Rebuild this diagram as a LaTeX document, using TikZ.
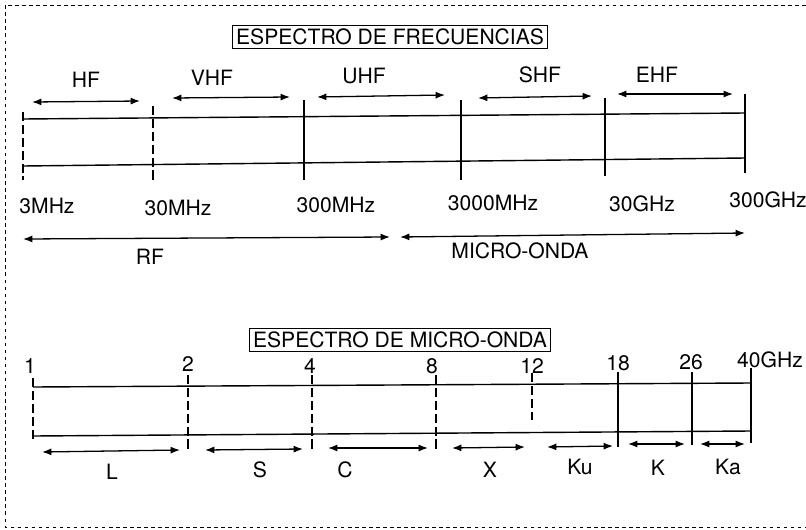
\documentclass[tikz,border=0pt]{standalone}
\usepackage{fontspec}
\setmainfont{TeX Gyre Heros}
\usetikzlibrary{arrows.meta}
\tikzset{%
  bandline/.style   = {draw, line width=1.2pt},
  divline/.style    = {draw, line width=1.1pt},
  divdash/.style    = {draw, line width=1.1pt, dash pattern=on 8pt off 3pt},
  rangearrow/.style = {{Latex[length=8pt,width=6pt]}-{Latex[length=8pt,width=6pt]}, line width=1.1pt},
  titlebox/.style   = {draw, line width=1.1pt, inner sep=3pt, font=\fontsize{18}{20}\selectfont},
  freqlabel/.style  = {font=\fontsize{18}{20}\selectfont, inner sep=0pt}
}

\begin{document}
\begin{tikzpicture}[x=0.03cm, y=-0.03cm]
    \useasboundingbox (0,0) rectangle (806,530);
    % marco
    \draw[dashed, line width=0.8pt] (806,5) -- (5,5) -- (5,527) -- (806,527);

    % espectro de frecuencias
    \node[titlebox] (titleF) at (390,37) {ESPECTRO DE FRECUENCIAS};
    \draw[bandline] (23,119) -- (745,113);
    \draw[bandline] (23,166) -- (745,158);
    \draw[divdash] (23,112) -- (23,180);
    \draw[divdash] (153,106) -- (153,180);
    \draw[divline] (304,100) -- (304,180);
    \draw[divline] (461,100) -- (461,180);
    \draw[divline] (605,98) -- (605,176);
    \draw[divline] (745,94) -- (745,173);

    \coordinate (HFa) at (32,102);   \coordinate (HFb) at (140,101);
    \coordinate (VHFa) at (172,98);  \coordinate (VHFb) at (290,97);
    \coordinate (UHFa) at (317,97);  \coordinate (UHFb) at (445,95);
    \coordinate (SHFa) at (478,98);  \coordinate (SHFb) at (592,96);
    \coordinate (EHFa) at (617,94);  \coordinate (EHFb) at (733,94);
    \draw[rangearrow] (HFa) -- (HFb);
    \draw[rangearrow] (VHFa) -- (VHFb);
    \draw[rangearrow] (UHFa) -- (UHFb);
    \draw[rangearrow] (SHFa) -- (SHFb);
    \draw[rangearrow] (EHFa) -- (EHFb);
    \node[freqlabel] (HF) at (86,80) {HF};
    \node[freqlabel] (VHF) at (212,78) {VHF};
    \node[freqlabel] (UHF) at (364,76) {UHF};
    \node[freqlabel] (SHF) at (540,75) {SHF};
    \node[freqlabel] (EHF) at (657,75) {EHF};

    \node[freqlabel] (f3M) at (47,206) {3MHz};
    \node[freqlabel] (f30M) at (178,208) {30MHz};
    \node[freqlabel] (f300M) at (336,205) {300MHz};
    \node[freqlabel] (f3000M) at (493,203) {3000MHz};
    \node[freqlabel] (f30G) at (642,204) {30GHz};
    \node[freqlabel] (f300G) at (768,200) {300GHz};

    \coordinate (RFa) at (23,239);   \coordinate (RFb) at (390,237);
    \coordinate (MOa) at (400,237);  \coordinate (MOb) at (745,233);
    \draw[rangearrow] (RFa) -- (RFb);
    \draw[rangearrow] (MOa) -- (MOb);
    \node[freqlabel] (RF) at (150,257) {RF};
    \node[freqlabel] (MO) at (520,251) {MICRO-ONDA};

    % espectro de micro-onda
    \node[titlebox] (titleM) at (400,340) {ESPECTRO DE MICRO-ONDA};
    \draw[bandline] (33,387) -- (751,383);
    \draw[bandline] (33,436) -- (751,431);
    \draw[divdash] (33,378) -- (33,440);
    \draw[divdash] (188,375) -- (188,450);
    \draw[divdash] (312,375) -- (312,450);
    \draw[divdash] (436,375) -- (436,450);
    \draw[divdash] (532,373) -- (532,420);
    \draw[divline] (618,372) -- (618,447);
    \draw[divline] (692,372) -- (692,445);
    \draw[divline] (751,368) -- (751,443);

    \node[freqlabel] (g1) at (30,366) {1};
    \node[freqlabel] (g2) at (188,364) {2};
    \node[freqlabel] (g4) at (310,366) {4};
    \node[freqlabel] (g8) at (432,366) {8};
    \node[freqlabel] (g12) at (532,366) {12};
    \node[freqlabel] (g18) at (618,363) {18};
    \node[freqlabel] (g26) at (691,362) {26};
    \node[freqlabel] (g40) at (770,360) {40GHz};

    \coordinate (La) at (42,452);    \coordinate (Lb) at (180,450);
    \coordinate (Sa) at (205,450);   \coordinate (Sb) at (303,449);
    \coordinate (Ca) at (328,448);   \coordinate (Cb) at (428,448);
    \coordinate (Xa) at (452,448);   \coordinate (Xb) at (525,447);
    \coordinate (Kua) at (547,447);  \coordinate (Kub) at (613,446);
    \coordinate (Ka) at (628,444);   \coordinate (Kb) at (685,444);
    \coordinate (Kaa) at (700,444);  \coordinate (Kab) at (745,444);
    \draw[rangearrow] (La) -- (Lb);
    \draw[rangearrow] (Sa) -- (Sb);
    \draw[rangearrow] (Ca) -- (Cb);
    \draw[rangearrow] (Xa) -- (Xb);
    \draw[rangearrow] (Kua) -- (Kub);
    \draw[rangearrow] (Ka) -- (Kb);
    \draw[rangearrow] (Kaa) -- (Kab);
    \node[freqlabel] (L) at (112,472) {L};
    \node[freqlabel] (S) at (260,470) {S};
    \node[freqlabel] (C) at (345,470) {C};
    \node[freqlabel] (X) at (490,470) {X};
    \node[freqlabel] (Ku) at (580,467) {Ku};
    \node[freqlabel] (K) at (658,468) {K};
    \node[freqlabel] (Kal) at (728,467) {Ka};
\end{tikzpicture}
\end{document}
